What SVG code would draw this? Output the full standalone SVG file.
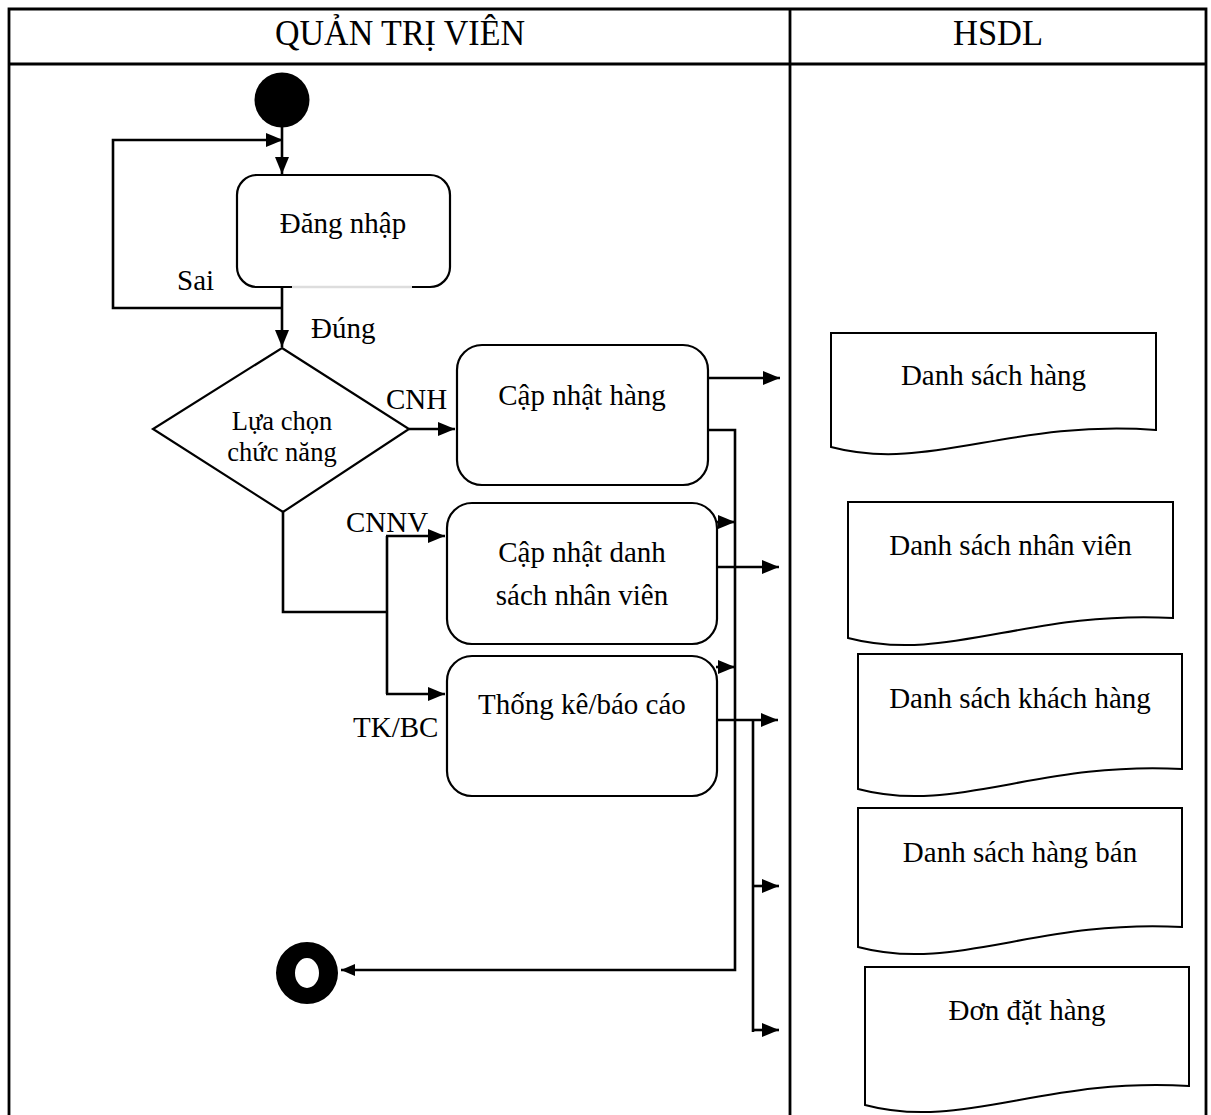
<svg xmlns="http://www.w3.org/2000/svg" width="1211" height="1115" viewBox="0 0 1211 1115">
<style>
text{font-family:"Liberation Serif","Times New Roman","DejaVu Serif",serif;fill:#000}
.t{font-size:29px;text-anchor:middle}
.lb{font-size:29px}
.hd{font-size:36px;text-anchor:middle}
.dm{font-size:26.5px;text-anchor:middle}
.box{fill:#fff;stroke:#000;stroke-width:2.2}
.doc{fill:#fff;stroke:#000;stroke-width:2}
.frame{fill:none;stroke:#000;stroke-width:2.8}
.c{fill:none;stroke:#000;stroke-width:2.6}
.cm{marker-end:url(#ah)}
</style>
<defs>
<marker id="ah" viewBox="0 0 17 14" refX="17" refY="7" markerWidth="17" markerHeight="14" markerUnits="userSpaceOnUse" orient="auto"><path d="M0,0 L17,7 L0,14 Z" fill="#000"/></marker>
<marker id="ahs" viewBox="0 0 14 12" refX="14" refY="6" markerWidth="14" markerHeight="12" markerUnits="userSpaceOnUse" orient="auto"><path d="M0,0 L14,6 L0,12 Z" fill="#000"/></marker>
</defs>
<rect width="1211" height="1115" fill="#fff"/>
<g id="lanes">
<path class="frame" d="M9,1115 V9 H1206 V1115 M9,64 H1206 M790,9 V1115"/>
<text class="hd" x="400" y="45" font-family="Liberation Serif, serif" textLength="250" lengthAdjust="spacingAndGlyphs">QUẢN TRỊ VIÊN</text>
<text class="hd" x="998" y="45" font-family="Liberation Serif, serif" textLength="90" lengthAdjust="spacingAndGlyphs">HSDL</text>
</g>
<g id="connectors">
<path class="c cm" d="M282,126 V174"/>
<path class="c cm" d="M282,308 H113 V140 H283"/>
<path class="c cm" d="M282,287 V347"/>
<path class="c cm" d="M409,429 H455"/>
<path class="c" d="M283,512 V612 H387 M387,536 V694"/>
<path class="c cm" d="M386,536 H445"/>
<path class="c cm" d="M386,694 H445"/>
<path class="c cm" d="M708,378 H780"/>
<path class="c" d="M708,430 H735 V970 H341" marker-end="url(#ahs)"/>
<path class="c cm" d="M716,522 H735"/>
<path class="c cm" d="M717,567 H779"/>
<path class="c cm" d="M716,667 H735"/>
<path class="c cm" d="M717,720 H778"/>
<path class="c" d="M753,720 V1032"/>
<path class="c cm" d="M752,886 H779"/>
<path class="c cm" d="M752,1030 H779"/>
<text class="lb" x="177" y="290" font-family="Liberation Serif, serif">Sai</text>
<text class="lb" x="311" y="338" font-family="Liberation Serif, serif">Đúng</text>
<text class="lb" x="386" y="409" font-family="Liberation Serif, serif">CNH</text>
<text class="lb" x="346" y="532" font-family="Liberation Serif, serif">CNNV</text>
<text class="lb" x="353" y="737" font-family="Liberation Serif, serif">TK/BC</text>
</g>
<g id="start"><circle cx="282" cy="100" r="27.5" fill="#000"/></g>
<g id="end"><path d="M276,973 a31,31 0 1,0 62,0 a31,31 0 1,0 -62,0 Z M295,973 a12,15 0 1,0 24,0 a12,15 0 1,0 -24,0 Z" fill="#000" fill-rule="evenodd"/></g>
<g id="dangnhap">
<rect class="box" x="237" y="175" width="213" height="112" rx="20"/>
<path d="M292,287 H412" stroke="#ddd" stroke-width="2.4"/>
<text class="t" x="343" y="233" font-family="Liberation Serif, serif">Đăng nhập</text>
</g>
<g id="luachon">
<polygon class="box" points="282,348 409,429 283,512 153,429"/>
<text class="dm" x="282" y="430" font-family="Liberation Serif, serif">Lựa chọn</text>
<text class="dm" x="282" y="461" font-family="Liberation Serif, serif">chức năng</text>
</g>
<g id="capnhathang">
<rect class="box" x="457" y="345" width="251" height="140" rx="25"/>
<text class="t" x="582" y="405" font-family="Liberation Serif, serif">Cập nhật hàng</text>
</g>
<g id="capnhatnv">
<rect class="box" x="447" y="503" width="270" height="141" rx="25"/>
<text class="t" x="582" y="562" font-family="Liberation Serif, serif">Cập nhật danh</text>
<text class="t" x="582" y="605" font-family="Liberation Serif, serif">sách nhân viên</text>
</g>
<g id="thongke">
<rect class="box" x="447" y="656" width="270" height="140" rx="25"/>
<text class="t" x="582" y="714" font-family="Liberation Serif, serif">Thống kê/báo cáo</text>
</g>
<g id="ds-hang">
<path class="doc" d="M831,333 H1156 V430 C1010,419 928,473 831,447 Z"/>
<text class="t" x="993.5" y="385" font-family="Liberation Serif, serif">Danh sách hàng</text>
</g>
<g id="ds-nhanvien">
<path class="doc" d="M848,502 H1173 V618 C1027,610 946,664 848,638 Z"/>
<text class="t" x="1010.5" y="555" font-family="Liberation Serif, serif">Danh sách nhân viên</text>
</g>
<g id="ds-khachhang">
<path class="doc" d="M858,654 H1182 V769 C1036,761 955,815 858,789 Z"/>
<text class="t" x="1020" y="708" font-family="Liberation Serif, serif">Danh sách khách hàng</text>
</g>
<g id="ds-hangban">
<path class="doc" d="M858,808 H1182 V927 C1036,919 955,973 858,947 Z"/>
<text class="t" x="1020" y="862" font-family="Liberation Serif, serif">Danh sách hàng bán</text>
</g>
<g id="dondathang">
<path class="doc" d="M865,967 H1189 V1086 C1043,1077 962,1131 865,1105 Z"/>
<text class="t" x="1027" y="1020" font-family="Liberation Serif, serif">Đơn đặt hàng</text>
</g>
</svg>
